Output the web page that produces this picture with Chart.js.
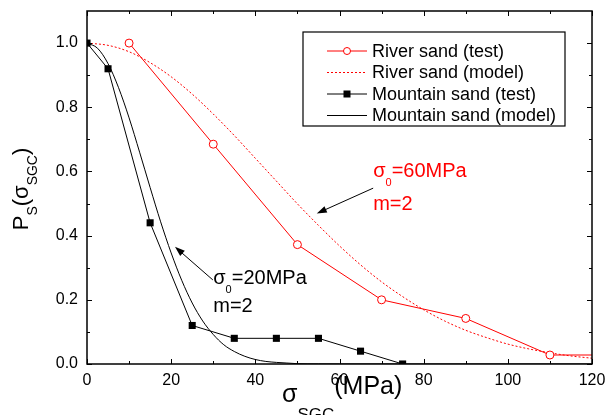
<!DOCTYPE html>
<html>
<head>
<meta charset="utf-8">
<script src="https://cdn.jsdelivr.net/npm/chart.js@4.4.0/dist/chart.umd.min.js"></script>
<style>
  html, body { margin: 0; padding: 0; background: #fff; }
  #wrap { width: 615px; height: 415px; position: relative; }
</style>
</head>
<body>
<div id="wrap"><canvas id="chart"></canvas></div>
<script>
const FONT = '"Liberation Sans", Arial, sans-serif';

// River sand, test points (last point only carries the flat tail to 120)
const riverTestX = [10, 30, 50, 70, 90, 110, 120];
const riverTestY = [1.0, 0.685, 0.372, 0.2, 0.142, 0.028, 0.028];

// River sand, model curve (sigma0 = 60 MPa, m = 2)
const riverModelX = [0, 5, 10, 15, 20, 25, 30, 35, 40, 45, 50, 55, 60, 65, 70, 75, 80, 85, 90, 95, 100, 105, 110, 115, 120];
const riverModelY = [1.0, 0.993, 0.973, 0.939, 0.895, 0.841, 0.779, 0.712, 0.641, 0.570, 0.499, 0.432, 0.368, 0.309, 0.256, 0.210, 0.169, 0.134, 0.105, 0.082, 0.062, 0.047, 0.035, 0.025, 0.018];

// Mountain sand, test points
const mountainTestX = [0, 5, 15, 25, 35, 45, 55, 65, 75];
const mountainTestY = [1.0, 0.92, 0.44, 0.12, 0.08, 0.08, 0.08, 0.04, 0.0];

// Mountain sand, model curve (sigma0 = 20 MPa, m = 2)
const mountainModelX = [0, 2.5, 5, 7.5, 10, 12.5, 15, 17.5, 20, 22.5, 25, 27.5, 30, 32.5, 35, 37.5, 40, 42.5, 45, 47.5, 50, 55, 60, 80, 100, 120];
const mountainModelY = [1.0, 0.984, 0.936, 0.861, 0.767, 0.660, 0.550, 0.443, 0.346, 0.261, 0.190, 0.134, 0.092, 0.060, 0.039, 0.024, 0.014, 0.008, 0.005, 0.003, 0.001, 0.0003, 0.0001, 0, 0, 0];

const xTicks = [0, 20, 40, 60, 80, 100, 120];
const yTicks = [0, 0.2, 0.4, 0.6, 0.8, 1.0];

const RED = '#ff0000';
const BLACK = '#000000';

const pts = (xs, ys) => xs.map((x, i) => ({ x: x, y: ys[i] }));

// draws a run of text pieces (with sub/superscripts) starting at x, baseline y
function drawRich(ctx, x, y, parts, color, align) {
    ctx.fillStyle = color;
    ctx.textBaseline = 'alphabetic';
    ctx.textAlign = 'left';
    let total = 0;
    parts.forEach(p => {
        ctx.font = p.size + 'px ' + FONT;
        total += ctx.measureText(p.t).width;
    });
    let cx = align === 'center' ? x - total / 2 : x;
    parts.forEach(p => {
        ctx.font = p.size + 'px ' + FONT;
        ctx.fillText(p.t, cx, y + (p.dy || 0));
        cx += ctx.measureText(p.t).width;
    });
}

function drawArrow(ctx, x1, y1, x2, y2) {
    const ang = Math.atan2(y2 - y1, x2 - x1);
    const len = 10, half = 3.5;
    ctx.strokeStyle = BLACK;
    ctx.fillStyle = BLACK;
    ctx.lineWidth = 1;
    ctx.beginPath();
    ctx.moveTo(x1, y1);
    ctx.lineTo(x2 - Math.cos(ang) * len * 0.8, y2 - Math.sin(ang) * len * 0.8);
    ctx.stroke();
    ctx.beginPath();
    ctx.moveTo(x2, y2);
    ctx.lineTo(x2 - Math.cos(ang) * len - Math.sin(ang) * half, y2 - Math.sin(ang) * len + Math.cos(ang) * half);
    ctx.lineTo(x2 - Math.cos(ang) * len + Math.sin(ang) * half, y2 - Math.sin(ang) * len - Math.cos(ang) * half);
    ctx.closePath();
    ctx.fill();
}

const decorPlugin = {
    id: 'decor',
    afterDatasetsDraw(chart) {
        const ctx = chart.ctx;
        const a = chart.chartArea;
        const xs = chart.scales.x, ys = chart.scales.y;
        ctx.save();

        // frame
        ctx.strokeStyle = BLACK;
        ctx.lineWidth = 1.5;
        ctx.strokeRect(a.left, a.top, a.right - a.left, a.bottom - a.top);

        // inward ticks on all four sides
        ctx.lineWidth = 1;
        ctx.beginPath();
        for (let v = 0; v <= 120; v += 10) {
            const px = Math.round(xs.getPixelForValue(v)) + 0.5;
            const l = v % 20 === 0 ? 5 : 3;
            ctx.moveTo(px, a.bottom); ctx.lineTo(px, a.bottom - l);
            ctx.moveTo(px, a.top); ctx.lineTo(px, a.top + l);
        }
        for (let i = 0; i <= 10; i++) {
            const py = Math.round(ys.getPixelForValue(i / 10)) + 0.5;
            const l = i % 2 === 0 ? 5 : 3;
            ctx.moveTo(a.left, py); ctx.lineTo(a.left + l, py);
            ctx.moveTo(a.right, py); ctx.lineTo(a.right - l, py);
        }
        ctx.stroke();

        // axis titles
        drawRich(ctx, 282, 394, [
            { t: 'σ', size: 25, dy: 8 },
            { t: 'SGC', size: 17, dy: 26 },
            { t: '(MPa)', size: 25 }
        ], BLACK, 'left');

        ctx.save();
        ctx.translate(28, 189);
        ctx.rotate(-Math.PI / 2);
        drawRich(ctx, 0, 0, [
            { t: 'P', size: 22 },
            { t: 'S', size: 14, dy: 9 },
            { t: '(σ', size: 22 },
            { t: 'SGC', size: 14, dy: 9 },
            { t: ')', size: 22 }
        ], BLACK, 'center');
        ctx.restore();

        // annotations
        drawArrow(ctx, xs.getPixelForValue(68), ys.getPixelForValue(0.548),
                  xs.getPixelForValue(54.6), ys.getPixelForValue(0.469));
        drawArrow(ctx, xs.getPixelForValue(29.9), ys.getPixelForValue(0.262),
                  xs.getPixelForValue(20.9), ys.getPixelForValue(0.365));

        drawRich(ctx, xs.getPixelForValue(68), ys.getPixelForValue(0.584), [
            { t: 'σ', size: 20 }, { t: '0', size: 11, dy: 9 }, { t: '=60MPa', size: 20 }
        ], RED, 'left');
        drawRich(ctx, xs.getPixelForValue(68), ys.getPixelForValue(0.48), [
            { t: 'm=2', size: 20 }
        ], RED, 'left');
        drawRich(ctx, xs.getPixelForValue(30), ys.getPixelForValue(0.248), [
            { t: 'σ', size: 20 }, { t: '0', size: 11, dy: 9 }, { t: '=20MPa', size: 20 }
        ], BLACK, 'left');
        drawRich(ctx, xs.getPixelForValue(30), ys.getPixelForValue(0.163), [
            { t: 'm=2', size: 20 }
        ], BLACK, 'left');

        // legend
        const lx = 303, ly = 32, lw = 262, lh = 94;
        ctx.fillStyle = '#fff';
        ctx.fillRect(lx, ly, lw, lh);
        ctx.strokeStyle = BLACK;
        ctx.lineWidth = 1.2;
        ctx.strokeRect(lx, ly, lw, lh);
        const rows = [51, 72.5, 94, 115.5];
        chart.data.datasets.forEach((ds, i) => {
            const y = rows[i];
            ctx.save();
            ctx.strokeStyle = ds.borderColor;
            ctx.lineWidth = 1;
            ctx.setLineDash(ds.borderDash || []);
            ctx.beginPath();
            ctx.moveTo(327, y); ctx.lineTo(367, y);
            ctx.stroke();
            ctx.setLineDash([]);
            if (ds.legendMark === 'circle') {
                ctx.fillStyle = '#fff';
                ctx.beginPath();
                ctx.arc(347, y, 3.5, 0, Math.PI * 2);
                ctx.fill();
                ctx.stroke();
            } else if (ds.legendMark === 'rect') {
                ctx.fillStyle = BLACK;
                ctx.fillRect(343.5, y - 3.5, 7, 7);
            }
            ctx.restore();
            ctx.fillStyle = BLACK;
            ctx.font = '18px ' + FONT;
            ctx.textBaseline = 'middle';
            ctx.textAlign = 'left';
            ctx.fillText(ds.label, 372, y + 1);
        });

        ctx.restore();
    }
};

new Chart(document.getElementById('chart'), {
    type: 'line',
    data: {
        datasets: [
            {
                label: 'River sand (test)',
                data: pts(riverTestX, riverTestY),
                borderColor: RED,
                borderWidth: 1,
                pointStyle: 'circle',
                pointRadius: riverTestX.map(x => x > 110 ? 0 : 4),
                pointBackgroundColor: '#fff',
                pointBorderColor: RED,
                pointBorderWidth: 1,
                legendMark: 'circle',
                order: 1
            },
            {
                label: 'River sand (model)',
                data: pts(riverModelX, riverModelY),
                borderColor: RED,
                borderWidth: 1,
                borderDash: [2, 2],
                pointRadius: 0,
                cubicInterpolationMode: 'monotone',
                order: 3
            },
            {
                label: 'Mountain sand (test)',
                data: pts(mountainTestX, mountainTestY),
                borderColor: BLACK,
                borderWidth: 1,
                pointStyle: 'rect',
                pointRadius: 5,
                pointBackgroundColor: BLACK,
                pointBorderColor: BLACK,
                pointBorderWidth: 0,
                legendMark: 'rect',
                order: 2
            },
            {
                label: 'Mountain sand (model)',
                data: pts(mountainModelX, mountainModelY),
                borderColor: BLACK,
                borderWidth: 1,
                pointRadius: 0,
                cubicInterpolationMode: 'monotone',
                order: 4
            }
        ]
    },
    options: {
        responsive: true,
        maintainAspectRatio: false,
        animation: false,
        devicePixelRatio: 1,
        layout: { padding: { top: 11, right: 23, left: 0, bottom: 0 } },
        plugins: {
            legend: { display: false },
            tooltip: { enabled: false }
        },
        scales: {
            x: {
                type: 'linear',
                min: 0,
                max: 120,
                afterBuildTicks: s => { s.ticks = xTicks.map(v => ({ value: v })); },
                afterFit: s => { s.height = 51; s.paddingLeft = 0; s.paddingRight = 0; },
                grid: { display: false, drawTicks: false },
                border: { display: false },
                ticks: {
                    color: BLACK,
                    padding: 7,
                    maxRotation: 0,
                    font: { family: FONT, size: 16 }
                }
            },
            y: {
                type: 'linear',
                min: 0,
                max: 1.1,
                afterBuildTicks: s => { s.ticks = yTicks.map(v => ({ value: v })); },
                afterFit: s => { s.width = 87; s.paddingTop = 0; s.paddingBottom = 0; },
                grid: { display: false, drawTicks: false },
                border: { display: false },
                ticks: {
                    color: BLACK,
                    padding: 9,
                    font: { family: FONT, size: 16 },
                    callback: v => v.toFixed(1)
                }
            }
        }
    },
    plugins: [decorPlugin]
});
</script>
</body>
</html>
